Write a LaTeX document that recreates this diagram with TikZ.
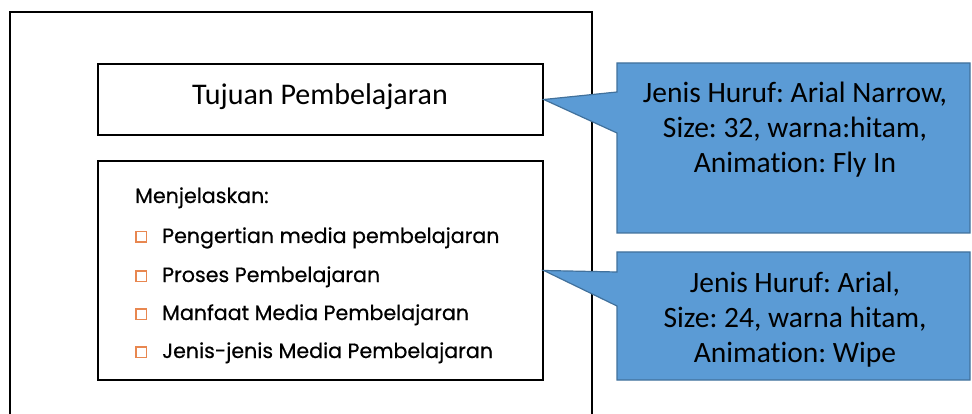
\documentclass[tikz,border=0pt]{standalone}
\usepackage{fontspec}
\setmainfont{Carlito}[Ligatures={NoCommon}]
\newfontfamily\listfont{Poppins}[BoldFont={Poppins},BoldFeatures={FakeBold=0.5}]
\definecolor{calloutfill}{RGB}{91,155,213}
\definecolor{calloutline}{RGB}{65,113,156}
\definecolor{bulletorange}{RGB}{232,135,80}
\frenchspacing
\begin{document}
\begin{tikzpicture}[x=1pt,y=-1pt,
  frame/.style={draw=black,line width=1.6pt},
  textbox/.style={draw=black,line width=1.6pt,minimum width=445pt,inner sep=0pt},
  callout/.style={fill=calloutfill,draw=calloutline,line width=1.2pt,line join=miter},
  callouttext/.style={align=center,font=\fontsize{29.5}{35}\selectfont,inner sep=0pt},
  item/.style={anchor=base west,inner sep=0pt,font=\listfont\bfseries\fontsize{20.6}{24}\selectfont},
  bulletbox/.style={draw=bulletorange,line width=1.5pt,minimum size=10.5pt,inner sep=0pt}]
\useasboundingbox (0,0) rectangle (972,414);
% slide frame
\draw[frame] (10,12) rectangle (592,440);
% title box
\node[textbox,minimum height=71pt] (title) at (320.5,99.5) {};
\node[inner sep=0pt,font=\fontsize{30}{36}\selectfont] (titletext) at (320,97) {Tujuan Pembelajaran};
% content box
\node[textbox,minimum height=219pt] (content) at (320.5,270.5) {};
\node[item] (intro) at (135,203) {Menjelaskan:};
\foreach \y/\txt/\nm in {243/Pengertian media pembelajaran/i1,
                         282/Proses Pembelajaran/i2,
                         320/Manfaat Media Pembelajaran/i3,
                         358/Jenis-jenis Media Pembelajaran/i4}{
  \node[bulletbox] (b\nm) at (141,\y-6) {};
  \node[item] (\nm) at (162,\y) {\txt};
}
% callout for the title
\path[callout] (617,63) -- (970,63) -- (970,233) -- (617,233) -- (617,133)
  -- (title.east) -- (617,92) -- cycle;
\node[callouttext] (note1) at (795,130) {Jenis Huruf: Arial Narrow,\\Size: 32, warna:hitam,\\Animation: Fly In};
% callout for the content
\path[callout] (617,252) -- (970,252) -- (970,380) -- (617,380) -- (617,306)
  -- (content.east) -- (617,272) -- cycle;
\node[callouttext] (note2) at (795,320) {Jenis Huruf: Arial,\\Size: 24, warna hitam,\\Animation: Wipe};
\end{tikzpicture}
\end{document}
